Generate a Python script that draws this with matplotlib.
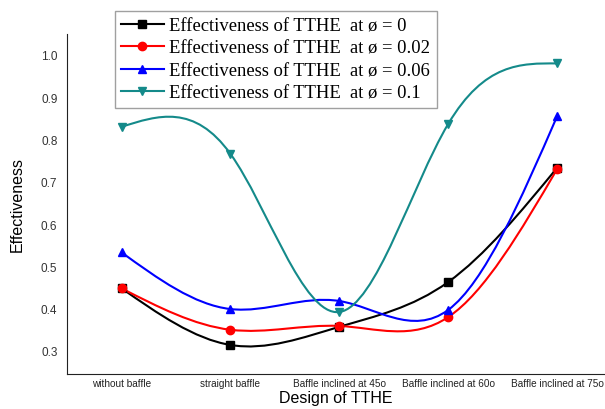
import numpy as np
import matplotlib
matplotlib.use('Agg')
import matplotlib.pyplot as plt
from matplotlib.path import Path
from matplotlib.patches import PathPatch
from matplotlib.lines import Line2D

# designs along the x axis
designs = ['without baffle', 'straight baffle', 'Baffle inclined at 45o',
           'Baffle inclined at 60o', 'Baffle inclined at 75o']

# effectiveness for each volume fraction
eff_0 = [0.448, 0.314, 0.357, 0.463, 0.733]
eff_002 = [0.448, 0.350, 0.359, 0.380, 0.730]
eff_006 = [0.533, 0.399, 0.418, 0.397, 0.855]
eff_01 = [0.830, 0.766, 0.392, 0.837, 0.980]

labels = ['Effectiveness of TTHE  at ø = 0',
          'Effectiveness of TTHE  at ø = 0.02',
          'Effectiveness of TTHE  at ø = 0.06',
          'Effectiveness of TTHE  at ø = 0.1']
colors = ['black', '#ff0000', '#0000ff', '#148a8a']
markers = ['s', 'o', '^', 'v']


def spline_path(x, y):
    # natural cubic spline, drawn as bezier segments
    x = np.asarray(x, float)
    y = np.asarray(y, float)
    n = len(x)
    h = np.diff(x)
    A = np.zeros((n, n))
    b = np.zeros(n)
    A[0, 0] = A[-1, -1] = 1
    for i in range(1, n - 1):
        A[i, i - 1] = h[i - 1]
        A[i, i] = 2 * (h[i - 1] + h[i])
        A[i, i + 1] = h[i]
        b[i] = 6 * ((y[i + 1] - y[i]) / h[i] - (y[i] - y[i - 1]) / h[i - 1])
    M = np.linalg.solve(A, b)
    verts = [(x[0], y[0])]
    codes = [Path.MOVETO]
    for i in range(n - 1):
        d0 = (y[i + 1] - y[i]) / h[i] - h[i] * (2 * M[i] + M[i + 1]) / 6
        d1 = (y[i + 1] - y[i]) / h[i] + h[i] * (M[i] + 2 * M[i + 1]) / 6
        verts += [(x[i] + h[i] / 3, y[i] + d0 * h[i] / 3),
                  (x[i + 1] - h[i] / 3, y[i + 1] - d1 * h[i] / 3),
                  (x[i + 1], y[i + 1])]
        codes += [Path.CURVE4] * 3
    return Path(verts, codes)


fig = plt.figure(figsize=(6.05, 4.10), dpi=100)
ax = fig.add_axes([0.111, 0.085, 0.889, 0.83])

xs = np.arange(len(designs))
handles = []
for ys, c, m, lab in zip([eff_0, eff_002, eff_006, eff_01], colors, markers, labels):
    ax.add_patch(PathPatch(spline_path(xs, ys), facecolor='none', edgecolor=c, lw=1.5))
    ax.plot(xs, ys, linestyle='none', marker=m, color=c, markersize=6)
    handles.append(Line2D([], [], color=c, marker=m, lw=1.5, markersize=6, label=lab))

ax.set_xlim(-0.5, 4.44)
ax.set_ylim(0.245, 1.05)
ax.set_xticks(xs)
ax.set_xticklabels(designs, fontsize=7.2, family='Liberation Sans', color='#222222')
ax.set_yticks([0.3, 0.4, 0.5, 0.6, 0.7, 0.8, 0.9, 1.0])
ax.set_yticklabels(['0.3', '0.4', '0.5', '0.6', '0.7', '0.8', '0.9', '1.0'],
                   fontsize=8.5, family='Liberation Sans', color='#333333')
ax.tick_params(axis='y', length=0, pad=7)
ax.tick_params(axis='x', length=0, pad=3)
ax.spines['top'].set_visible(False)
ax.spines['right'].set_visible(False)
ax.spines['left'].set_color('#222222')
ax.spines['bottom'].set_color('#222222')
ax.set_xlabel('Design of TTHE', fontsize=11.5, family='Liberation Sans', labelpad=1)
ax.set_ylabel('Effectiveness', fontsize=11.5, family='Liberation Sans', labelpad=12)

leg = fig.legend(handles=handles, loc='upper left', bbox_to_anchor=(0.19, 0.971),
                 prop={'family': 'Liberation Serif', 'size': 13.4},
                 frameon=True, fancybox=False, edgecolor='#888888', borderaxespad=0,
                 labelspacing=0.3, handlelength=2.3, borderpad=0.33, handletextpad=0.3)
leg.get_frame().set_linewidth(1.0)

plt.savefig('out.png', dpi=100)
